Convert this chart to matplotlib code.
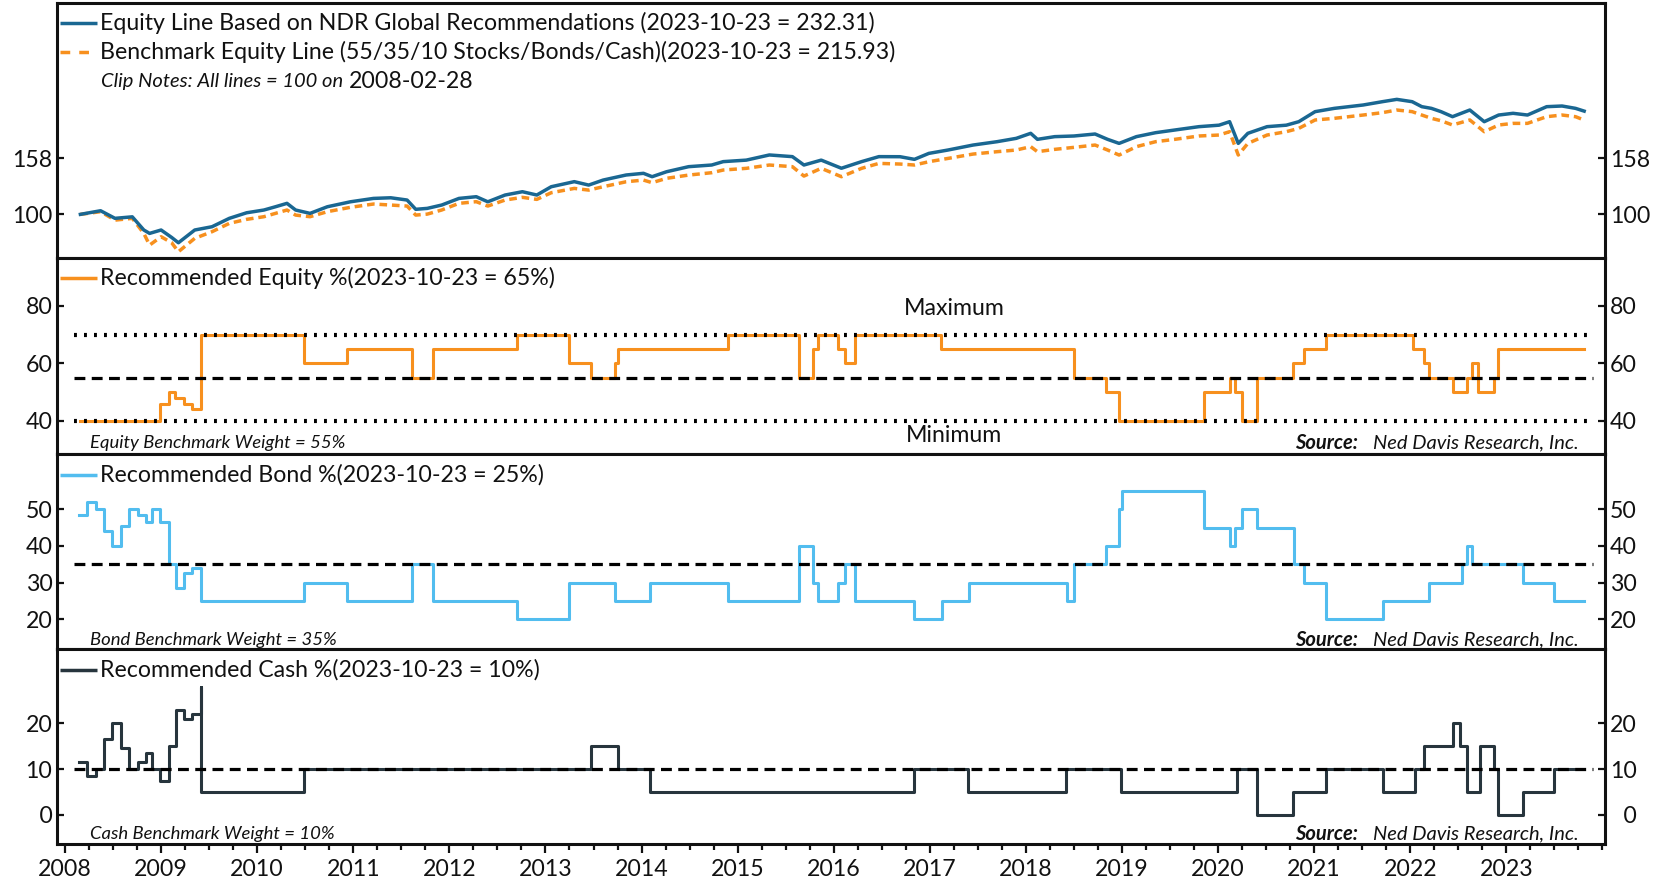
import matplotlib
matplotlib.use("Agg")
import matplotlib.pyplot as plt
from matplotlib.lines import Line2D
from matplotlib.ticker import FixedLocator, NullLocator, MultipleLocator, FuncFormatter

plt.rcParams['font.family'] = ['Lato', 'DejaVu Sans']

# ---------------- data (decimal years) ----------------
ndr_dates = [2008.16, 2008.37, 2008.52, 2008.70, 2008.82, 2008.88, 2009.00, 2009.11, 2009.18, 2009.35,
             2009.53, 2009.71, 2009.89, 2010.07, 2010.19, 2010.31, 2010.40, 2010.55, 2010.73, 2010.97,
             2011.21, 2011.39, 2011.56, 2011.65, 2011.77, 2011.92, 2012.10, 2012.28, 2012.40, 2012.58,
             2012.76, 2012.91, 2013.06, 2013.30, 2013.45, 2013.60, 2013.84, 2014.02, 2014.11, 2014.26,
             2014.49, 2014.73, 2014.85, 2015.09, 2015.33, 2015.57, 2015.69, 2015.87, 2016.08, 2016.29,
             2016.47, 2016.69, 2016.84, 2016.99, 2017.19, 2017.45, 2017.70, 2017.90, 2018.05, 2018.12,
             2018.30, 2018.50, 2018.72, 2018.85, 2018.97, 2019.15, 2019.35, 2019.55, 2019.80, 2020.01,
             2020.12, 2020.21, 2020.31, 2020.51, 2020.71, 2020.84, 2021.01, 2021.21, 2021.51, 2021.71,
             2021.86, 2022.02, 2022.12, 2022.22, 2022.32, 2022.44, 2022.62, 2022.77, 2022.92, 2023.07,
             2023.22, 2023.42, 2023.58, 2023.72, 2023.81]
ndr_vals = [100.0, 103.0, 96.8, 98.0, 88.0, 85.6, 88.0, 82.8, 79.3, 88.0,
            90.4, 96.8, 101.3, 103.6, 106.4, 109.4, 103.6, 100.8, 106.4, 110.8,
            113.9, 114.5, 112.4, 104.2, 105.0, 107.9, 113.9, 115.5, 110.8, 117.1,
            120.3, 117.1, 125.3, 130.6, 127.0, 132.3, 137.9, 139.8, 136.0, 141.6,
            147.6, 149.6, 153.8, 155.7, 162.4, 160.2, 149.6, 155.7, 145.7, 153.8,
            160.2, 160.1, 156.7, 164.5, 169.1, 176.1, 181.0, 186.0, 193.8, 184.5,
            188.6, 189.6, 192.7, 184.5, 178.5, 188.6, 194.8, 199.1, 204.6, 207.1,
            213.1, 178.5, 193.8, 204.6, 207.1, 213.1, 231.3, 237.6, 244.2, 250.9,
            255.7, 250.9, 240.9, 237.6, 231.3, 222.0, 234.4, 213.1, 225.0, 228.2,
            225.0, 240.9, 242.2, 237.6, 232.3]
bench_vals = [100.0, 102.2, 95.4, 96.8, 85.6, 77.8, 83.3, 79.3, 73.7, 82.2,
              86.8, 92.9, 96.0, 98.1, 100.8, 103.6, 99.4, 98.1, 102.2, 105.9,
              108.8, 107.9, 107.0, 99.4, 100.2, 103.6, 109.4, 110.9, 107.0, 112.4,
              114.9, 113.0, 119.3, 123.6, 121.9, 125.3, 130.5, 132.3, 129.5, 134.2,
              137.8, 140.5, 143.6, 145.6, 149.6, 147.6, 136.7, 145.6, 136.0, 145.6,
              151.6, 150.8, 149.6, 153.7, 157.9, 163.6, 166.8, 169.1, 173.8, 166.8,
              170.0, 172.8, 176.1, 169.1, 162.3, 173.8, 181.0, 184.5, 189.6, 191.1,
              196.4, 162.3, 178.5, 191.1, 196.4, 201.8, 216.1, 219.0, 225.0, 229.4,
              234.4, 231.3, 225.0, 219.0, 214.8, 207.4, 216.1, 196.4, 207.4, 210.2,
              210.2, 222.0, 225.0, 222.0, 215.9]

eq_dates = [2008.16, 2008.99, 2009.08, 2009.14, 2009.24, 2009.32, 2009.41, 2010.49, 2010.93, 2011.61,
            2011.83, 2012.70, 2013.25, 2013.47, 2013.72, 2013.76, 2014.90, 2015.64, 2015.78, 2015.84,
            2016.04, 2016.12, 2016.22, 2017.12, 2018.50, 2018.83, 2018.97, 2019.85, 2020.12, 2020.18,
            2020.25, 2020.40, 2020.78, 2020.89, 2021.12, 2022.03, 2022.14, 2022.19, 2022.44, 2022.59,
            2022.64, 2022.71, 2022.87, 2022.91, 2023.81]
eq_vals = [40, 46, 50, 48, 46, 44, 70, 60, 65, 55,
           65, 70, 60, 55, 60, 65, 70, 55, 65, 70,
           65, 60, 70, 65, 55, 50, 40, 50, 55, 50,
           40, 55, 60, 65, 70, 65, 60, 55, 50, 55,
           60, 50, 55, 65, 65]

bd_dates = [2008.15, 2008.23, 2008.32, 2008.41, 2008.49, 2008.58, 2008.67, 2008.76, 2008.84, 2008.91,
            2008.99, 2009.08, 2009.16, 2009.24, 2009.32, 2009.41, 2010.49, 2010.93, 2011.61, 2011.83,
            2012.70, 2013.25, 2013.72, 2014.09, 2014.90, 2015.64, 2015.78, 2015.84, 2016.04, 2016.12,
            2016.22, 2016.84, 2017.13, 2017.41, 2018.43, 2018.50, 2018.83, 2018.97, 2019.00, 2019.85,
            2020.12, 2020.18, 2020.25, 2020.41, 2020.79, 2020.89, 2021.12, 2021.72, 2022.19, 2022.54,
            2022.59, 2022.64, 2023.17, 2023.50, 2023.81]
bd_vals = [48.5, 52, 50, 44, 40, 45.5, 50, 48.5, 46.5, 50,
           46.5, 35, 28.5, 32.5, 34, 25, 30, 25, 35, 25,
           20, 30, 25, 30, 25, 40, 30, 25, 30, 35,
           25, 20, 25, 30, 25, 35, 40, 50, 55, 45,
           40, 45, 50, 45, 35, 30, 20, 25, 30, 35,
           40, 35, 30, 25, 25]

cs_dates = [2008.15, 2008.23, 2008.32, 2008.41, 2008.49, 2008.58, 2008.67, 2008.76, 2008.84, 2008.91,
            2008.99, 2009.08, 2009.16, 2009.24, 2009.32, 2009.41, 2009.42, 2010.49, 2013.47, 2013.76,
            2014.09, 2016.84, 2017.40, 2018.42, 2018.99, 2020.20, 2020.40, 2020.78, 2021.12, 2021.72,
            2022.05, 2022.14, 2022.44, 2022.52, 2022.59, 2022.73, 2022.87, 2022.91, 2023.17, 2023.50,
            2023.81]
cs_vals = [11.5, 8.5, 10, 16.5, 20, 14.5, 10, 11.5, 13.5, 10,
           7.5, 15, 23, 21, 22, 28, 5, 10, 15, 10,
           5, 10, 5, 10, 5, 10, 0, 5, 10, 5,
           10, 15, 20, 15, 5, 15, 10, 0, 5, 10,
           10]

eq_bench, bd_bench, cs_bench = 55, 35, 10
eq_max, eq_min = 70, 40
ref_span = [2008.09, 2023.90]
year_ticks = list(range(2008, 2024))
top_ticks = [100, 158]
eq_ticks = [40, 60, 80]
bd_ticks = [20, 30, 40, 50]
cs_ticks = [0, 10, 20]

BLUE = '#1a6792'
ORANGE = '#f7901e'
LBLUE = '#52bdef'
DARK = '#27353d'
TXT = '#111111'
FS = 16.7

# ---------------- figure ----------------
fig = plt.figure(figsize=(16.57, 8.81), dpi=100)
L, W = 0.0346, 0.9342
ax1 = fig.add_axes([L, 0.7077, W, 0.2885])
ax2 = fig.add_axes([L, 0.4852, W, 0.2225])
ax3 = fig.add_axes([L, 0.2639, W, 0.2213])
ax4 = fig.add_axes([L, 0.04166, W, 0.2222])

XLIM = (2007.92, 2024.03)


def two_digit(v, p):
    s = '%d' % round(v)
    return '\u2007' * (2 - len(s)) + s


def style(ax, ticks, ylim, log=False, fmt=None):
    for s in ax.spines.values():
        s.set_linewidth(2.2)
        s.set_color(TXT)
    ax.set_xlim(*XLIM)
    if log:
        ax.set_yscale('log')
    ax.set_ylim(*ylim)
    ax.yaxis.set_major_locator(FixedLocator(ticks))
    ax.yaxis.set_minor_locator(NullLocator())
    ax.yaxis.set_major_formatter(FuncFormatter(fmt if fmt else (lambda v, p: '%d' % round(v))))
    ax.tick_params(axis='y', which='major', direction='in', length=5, width=1.6,
                   left=True, right=True, labelleft=True, labelright=True,
                   labelsize=FS, pad=3.5, colors=TXT)
    ax.tick_params(axis='x', which='both', bottom=False, top=False,
                   labelbottom=False)


style(ax1, top_ticks, (70.3, 560), log=True)
style(ax2, eq_ticks, (28.56, 96.9), fmt=two_digit)
style(ax3, bd_ticks, (12.04, 65.2), fmt=two_digit)
style(ax4, cs_ticks, (-6.4, 36.3), fmt=two_digit)

# x axis on bottom panel
ax4.xaxis.set_major_locator(FixedLocator(year_ticks))
ax4.xaxis.set_minor_locator(MultipleLocator(0.25))
ax4.xaxis.set_major_formatter(FuncFormatter(lambda v, p: '%d' % round(v)))
ax4.tick_params(axis='x', which='major', bottom=True, direction='out', length=6.5,
                width=1.6, labelbottom=True, labelsize=FS, pad=4, colors=TXT)
ax4.tick_params(axis='x', which='minor', bottom=True, direction='out', length=4,
                width=1.6, colors=TXT)

# ---------------- series ----------------
ax1.plot(ndr_dates, bench_vals, color=ORANGE, lw=2.5, dashes=(2.2, 1.4), zorder=2)
ax1.plot(ndr_dates, ndr_vals, color=BLUE, lw=2.5, zorder=3)

ax2.step(eq_dates, eq_vals, where='post', color=ORANGE, lw=2.2, zorder=2)
ax3.step(bd_dates, bd_vals, where='post', color=LBLUE, lw=2.2, zorder=2)
ax4.step(cs_dates, cs_vals, where='post', color=DARK, lw=2.2, zorder=2)

ref_kw = dict(color='black', lw=2.3, dashes=(3.4, 2.0), zorder=3)
ax2.plot(ref_span, [eq_bench, eq_bench], **ref_kw)
ax3.plot(ref_span, [bd_bench, bd_bench], **ref_kw)
ax4.plot(ref_span, [cs_bench, cs_bench], **ref_kw)
dot_kw = dict(color='black', lw=3.0, dashes=(0.7, 1.7), zorder=3)
ax2.plot(ref_span, [eq_max, eq_max], **dot_kw)
ax2.plot(ref_span, [eq_min, eq_min], **dot_kw)

ax2.text(2017.25, 79.1, 'Maximum', ha='center', va='center', fontsize=FS, color=TXT)
ax2.text(2017.25, 35.0, 'Minimum', ha='center', va='center', fontsize=FS, color=TXT)

# ---------------- legends ----------------
HX0, HX1, TX = 0.0017, 0.0256, 0.0276


def entry(ax, y, label, color, dashes=None):
    kw = dict(transform=ax.transAxes, color=color, lw=2.5, solid_capstyle='butt',
              dash_capstyle='butt')
    if dashes:
        kw['dashes'] = dashes
    ax.add_line(Line2D([HX0, HX1], [y, y], **kw))
    ax.text(TX, y, label, transform=ax.transAxes, ha='left', va='center',
            fontsize=FS, color=TXT)


entry(ax1, 0.9225, 'Equity Line Based on NDR Global Recommendations (2023-10-23 = 232.31)', BLUE)
entry(ax1, 0.8084, 'Benchmark Equity Line (55/35/10 Stocks/Bonds/Cash)(2023-10-23 = 215.93)',
      ORANGE, dashes=(2.8, 2.6))
clip = ax1.text(0.0281, 0.6943, 'Clip Notes: All lines = 100 on', transform=ax1.transAxes,
                ha='left', va='center', fontsize=14.5, style='italic', color=TXT)
ax1.annotate('2008-02-28', xy=(1, 0.5), xycoords=clip, xytext=(4, 0),
             textcoords='offset points', ha='left', va='center', fontsize=FS, color=TXT)

entry(ax2, 0.894, 'Recommended Equity %(2023-10-23 = 65%)', ORANGE)
entry(ax3, 0.890, 'Recommended Bond %(2023-10-23 = 25%)', LBLUE)
entry(ax4, 0.890, 'Recommended Cash %(2023-10-23 = 10%)', DARK)

# ---------------- notes ----------------
notes = [(ax2, 0.052, 'Equity Benchmark Weight = 55%'),
         (ax3, 0.045, 'Bond Benchmark Weight = 35%'),
         (ax4, 0.052, 'Cash Benchmark Weight = 10%')]
for ax, y, txt in notes:
    ax.text(0.0211, y, txt, transform=ax.transAxes, ha='left', va='center',
            fontsize=13.3, style='italic', color=TXT)
    src = ax.text(0.983, y, 'Ned Davis Research, Inc.', transform=ax.transAxes,
                  ha='right', va='center', fontsize=14.5, style='italic', color=TXT)
    ax.annotate('Source:', xy=(0, 0.5), xycoords=src, xytext=(-11, 0),
                textcoords='offset points', ha='right', va='center', fontsize=14.5,
                style='italic', fontweight='bold', color=TXT)

fig.savefig('out.png', dpi=100)
